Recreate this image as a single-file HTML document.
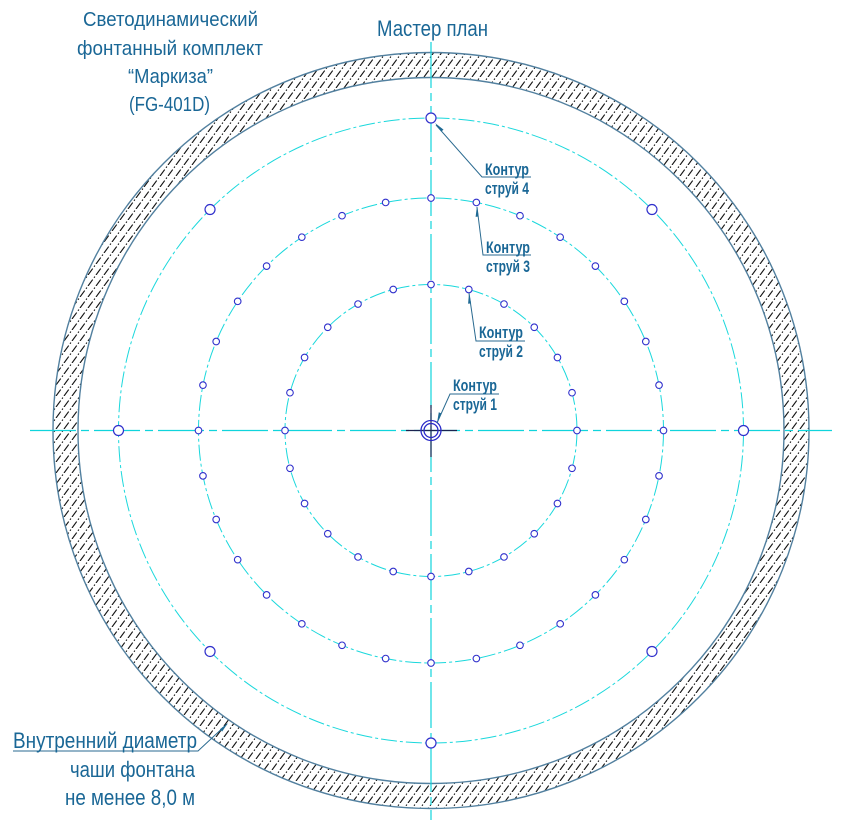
<!DOCTYPE html>
<html>
<head>
<meta charset="utf-8">
<style>
  html, body { margin:0; padding:0; background:#fff; }
  svg { display:block; }
  text { font-family: "Liberation Sans", "DejaVu Sans", sans-serif; fill:#1a6796; }
</style>
</head>
<body>
<svg width="855" height="820" viewBox="0 0 855 820" xmlns="http://www.w3.org/2000/svg">
  <defs>
    <pattern id="hatch" x="0" y="0" width="8" height="11" patternUnits="userSpaceOnUse">
      <g stroke="#151515" stroke-width="1.15" stroke-dasharray="8 2.2 1.5 1.9" fill="none">
        <line x1="0" y1="11" x2="8" y2="0"/>
        <line x1="-8" y1="11" x2="0" y2="0"/>
        <line x1="8" y1="11" x2="16" y2="0"/>
      </g>
    </pattern>
  </defs>

  <!-- hatched ring -->
  <path d="M 53 430.5 A 378 378 0 1 0 809 430.5 A 378 378 0 1 0 53 430.5 Z M 78 430.5 A 353 353 0 1 1 784 430.5 A 353 353 0 1 1 78 430.5 Z"
        fill="url(#hatch)" fill-rule="evenodd"/>
  <circle cx="431" cy="430.5" r="378" fill="none" stroke="#52809f" stroke-width="1.4"/>
  <circle cx="431" cy="430.5" r="353" fill="none" stroke="#52809f" stroke-width="1.4"/>

  <!-- contour circles (dash-dot) -->
  <g fill="none" stroke="#1ad8dc" stroke-width="1" stroke-dasharray="16 3 3 3">
    <circle cx="431" cy="430.5" r="312.5"/>
    <circle cx="431" cy="430.5" r="232.5"/>
    <circle cx="431" cy="430.5" r="146"/>
  </g>

  <!-- center lines -->
  <g stroke="#10d4dc" stroke-width="1.2" fill="none">
    <line x1="30" y1="430.5" x2="832" y2="430.5" stroke-dasharray="46 5 8 5"/>
    <line x1="431" y1="42" x2="431" y2="820" stroke-dasharray="46 5 8 5"/>
  </g>

  <!-- dark crosshair at center -->
  <g stroke="#1c2450" stroke-width="1.2">
    <line x1="406" y1="430.5" x2="457" y2="430.5"/>
    <line x1="431" y1="405" x2="431" y2="457"/>
  </g>

  <!-- center nozzle -->
  <g fill="none" stroke="#2a2ac8" stroke-width="1.3">
    <circle cx="431" cy="430.5" r="10"/>
    <circle cx="431" cy="430.5" r="7"/>
  </g>

  <!-- contour 4 markers -->
  <g fill="#fff" stroke="#3030cc" stroke-width="1.2">
    <circle cx="431" cy="118" r="5"/>
    <circle cx="651.97" cy="209.53" r="5"/>
    <circle cx="743.5" cy="430.5" r="5"/>
    <circle cx="651.97" cy="651.47" r="5"/>
    <circle cx="431" cy="743" r="5"/>
    <circle cx="210.03" cy="651.47" r="5"/>
    <circle cx="118.5" cy="430.5" r="5"/>
    <circle cx="210.03" cy="209.53" r="5"/>
  </g>

  <!-- contour 3 markers -->
  <g fill="#fff" stroke="#3030cc" stroke-width="1.1">
    <circle cx="431" cy="198" r="3.3"/>
    <circle cx="476.36" cy="202.46" r="3.3"/>
    <circle cx="519.98" cy="215.69" r="3.3"/>
    <circle cx="560.18" cy="237.18" r="3.3"/>
    <circle cx="595.4" cy="266.1" r="3.3"/>
    <circle cx="624.32" cy="301.32" r="3.3"/>
    <circle cx="645.81" cy="341.52" r="3.3"/>
    <circle cx="659.04" cy="385.14" r="3.3"/>
    <circle cx="663.5" cy="430.5" r="3.3"/>
    <circle cx="659.04" cy="475.86" r="3.3"/>
    <circle cx="645.81" cy="519.48" r="3.3"/>
    <circle cx="624.32" cy="559.68" r="3.3"/>
    <circle cx="595.4" cy="594.9" r="3.3"/>
    <circle cx="560.18" cy="623.82" r="3.3"/>
    <circle cx="519.98" cy="645.31" r="3.3"/>
    <circle cx="476.36" cy="658.54" r="3.3"/>
    <circle cx="431" cy="663" r="3.3"/>
    <circle cx="385.64" cy="658.54" r="3.3"/>
    <circle cx="342.02" cy="645.31" r="3.3"/>
    <circle cx="301.82" cy="623.82" r="3.3"/>
    <circle cx="266.6" cy="594.9" r="3.3"/>
    <circle cx="237.68" cy="559.68" r="3.3"/>
    <circle cx="216.19" cy="519.48" r="3.3"/>
    <circle cx="202.96" cy="475.86" r="3.3"/>
    <circle cx="198.5" cy="430.5" r="3.3"/>
    <circle cx="202.96" cy="385.14" r="3.3"/>
    <circle cx="216.19" cy="341.52" r="3.3"/>
    <circle cx="237.68" cy="301.32" r="3.3"/>
    <circle cx="266.6" cy="266.1" r="3.3"/>
    <circle cx="301.82" cy="237.18" r="3.3"/>
    <circle cx="342.02" cy="215.69" r="3.3"/>
    <circle cx="385.64" cy="202.46" r="3.3"/>
  </g>

  <!-- contour 2 markers -->
  <g fill="#fff" stroke="#3030cc" stroke-width="1.1">
    <circle cx="431" cy="284.5" r="3.3"/>
    <circle cx="468.79" cy="289.48" r="3.3"/>
    <circle cx="504" cy="304.06" r="3.3"/>
    <circle cx="534.24" cy="327.26" r="3.3"/>
    <circle cx="557.44" cy="357.5" r="3.3"/>
    <circle cx="572.02" cy="392.71" r="3.3"/>
    <circle cx="577" cy="430.5" r="3.3"/>
    <circle cx="572.02" cy="468.29" r="3.3"/>
    <circle cx="557.44" cy="503.5" r="3.3"/>
    <circle cx="534.24" cy="533.74" r="3.3"/>
    <circle cx="504" cy="556.94" r="3.3"/>
    <circle cx="468.79" cy="571.52" r="3.3"/>
    <circle cx="431" cy="576.5" r="3.3"/>
    <circle cx="393.21" cy="571.52" r="3.3"/>
    <circle cx="358" cy="556.94" r="3.3"/>
    <circle cx="327.76" cy="533.74" r="3.3"/>
    <circle cx="304.56" cy="503.5" r="3.3"/>
    <circle cx="289.98" cy="468.29" r="3.3"/>
    <circle cx="285" cy="430.5" r="3.3"/>
    <circle cx="289.98" cy="392.71" r="3.3"/>
    <circle cx="304.56" cy="357.5" r="3.3"/>
    <circle cx="327.76" cy="327.26" r="3.3"/>
    <circle cx="358" cy="304.06" r="3.3"/>
    <circle cx="393.21" cy="289.48" r="3.3"/>
  </g>

  <!-- leaders -->
  <g stroke="#2a6a90" stroke-width="1" fill="none">
    <polyline points="531,177 482,177 436,125"/>
    <polyline points="531,255 483,255 477,207"/>
    <polyline points="525,341 476,341 469,293"/>
    <polyline points="499,394 450,394 437,423"/>
    <polyline points="13,751 198,751 227,724"/>
  </g>
  <g fill="#1f6a94">
    <polygon points="435,123 443.5,129.6 441.2,131.6"/>
    <polygon points="477,206 478.6,216.5 475.6,216.9"/>
    <polygon points="469,293 471.1,303.4 468.1,303.8"/>
    <polygon points="437,423 441.5,413.5 438.8,412.2"/>
    <polygon points="228,723 222.1,731.6 219.9,729.3"/>
  </g>

  <!-- labels -->
  <g font-size="16.5" font-weight="600">
    <text x="485" y="175" textLength="44" lengthAdjust="spacingAndGlyphs">Контур</text>
    <text x="485" y="194" textLength="44" lengthAdjust="spacingAndGlyphs">струй 4</text>
    <text x="486" y="253" textLength="44" lengthAdjust="spacingAndGlyphs">Контур</text>
    <text x="486" y="272" textLength="44" lengthAdjust="spacingAndGlyphs">струй 3</text>
    <text x="479" y="338" textLength="44" lengthAdjust="spacingAndGlyphs">Контур</text>
    <text x="479" y="357" textLength="44" lengthAdjust="spacingAndGlyphs">струй 2</text>
    <text x="453" y="391" textLength="44" lengthAdjust="spacingAndGlyphs">Контур</text>
    <text x="453" y="410" textLength="44" lengthAdjust="spacingAndGlyphs">струй 1</text>
  </g>

  <!-- title -->
  <g font-size="20.5">
    <text x="83" y="26" textLength="175" lengthAdjust="spacingAndGlyphs">Светодинамический</text>
    <text x="77" y="55" textLength="186" lengthAdjust="spacingAndGlyphs">фонтанный комплект</text>
    <text x="128" y="83" textLength="85" lengthAdjust="spacingAndGlyphs">“Маркиза”</text>
    <text x="129" y="111" textLength="81" lengthAdjust="spacingAndGlyphs">(FG-401D)</text>
  </g>
  <text x="377" y="36" font-size="22" textLength="111" lengthAdjust="spacingAndGlyphs">Мастер план</text>

  <!-- bottom-left note -->
  <g font-size="22">
    <text x="13" y="748" textLength="184" lengthAdjust="spacingAndGlyphs">Внутренний диаметр</text>
    <text x="70" y="777" textLength="125" lengthAdjust="spacingAndGlyphs">чаши фонтана</text>
    <text x="65" y="805" textLength="130" lengthAdjust="spacingAndGlyphs">не менее 8,0 м</text>
  </g>
</svg>
</body>
</html>
